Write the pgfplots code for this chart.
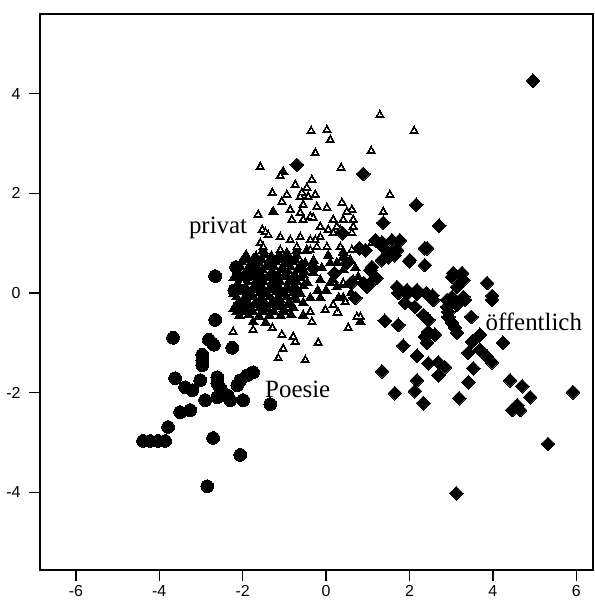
\documentclass[border=0pt]{standalone}
\usepackage{fontspec}
\setmainfont{Liberation Serif}
\newfontfamily\tickfont{Liberation Sans}
\usepackage{pgfplots}
\usepackage{pgfplotstable}
\pgfplotsset{compat=1.18}
% privat: scattered points (white centres visible)
\pgfplotstableread{
x y
1.29 3.57
-0.36 3.25
0.02 3.27
0.10 3.07
2.11 3.25
-0.26 2.81
1.08 2.85
0.36 2.51
-0.34 2.27
1.53 1.97
1.37 1.63
-1.58 2.53
-1.29 2.01
-1.63 1.57
-1.46 1.22
-1.39 1.16
-0.46 2.11
-0.43 1.93
-0.58 2.01
0.02 1.71
0.38 1.81
0.62 1.67
0.65 1.47
0.05 1.27
0.34 1.27
0.62 1.20
-0.62 1.61
-0.38 1.53
-0.26 1.06
0.41 0.20
-0.74 2.17
-0.94 1.97
-0.62 1.93
-0.26 1.97
-1.06 1.83
-0.86 1.67
-0.55 1.77
-0.22 1.73
0.50 1.63
0.17 1.47
-0.82 1.47
-0.55 1.47
-0.31 1.51
-0.14 1.33
-1.53 1.27
-1.10 1.12
-0.86 1.06
-0.62 1.12
-0.38 1.06
-0.14 1.12
-1.51 0.92
-1.10 0.86
-0.70 0.92
-0.38 0.86
0.02 0.92
0.34 0.92
0.62 0.86
-1.10 2.35
-2.01 0.20
-1.58 1.00
-0.22 0.92
-0.02 -0.34
0.26 -0.40
0.46 -0.18
-0.38 -0.38
-0.34 -0.58
0.17 -0.24
-2.23 -0.78
-1.75 -0.74
-1.29 -0.70
-1.06 -0.84
-0.79 -0.88
0.53 -0.70
0.74 -0.48
-1.03 -1.12
-1.15 -1.31
-0.19 -1.00
-0.50 -1.35
-0.74 -0.98
0.29 -0.40
0.82 -0.48
0.41 1.47
0.65 1.33
0.26 1.33
0.17 1.20
1.10 1.00
}\privatA
% privat: dense cluster (outlines merge into a solid mass)
\pgfplotstableread{
x y
-1.27 1.63
-1.03 2.43
-1.65 0.46
-1.51 0.86
-1.10 0.72
-0.94 0.80
-0.70 0.86
-0.46 0.86
0.10 0.60
0.41 0.72
-0.31 0.40
-0.14 0.26
0.10 0.20
0.65 0.26
-0.38 -0.10
-0.14 -0.10
0.70 0.50
0.77 0.32
0.41 0.46
0.26 0.60
0.17 0.26
0.26 0.12
0.41 -0.10
0.82 -0.58
0.41 0.82
0.58 0.66
0.41 0.16
-1.92 0.76
-1.68 0.73
-1.49 0.78
-1.31 0.74
-1.12 0.77
-0.88 0.72
-0.71 0.76
-2.03 0.62
-1.81 0.58
-1.62 0.61
-1.38 0.57
-1.21 0.62
-0.99 0.59
-0.82 0.63
-0.58 0.58
-2.12 0.44
-1.88 0.47
-1.71 0.43
-1.52 0.46
-1.29 0.43
-1.08 0.47
-0.91 0.44
-0.69 0.46
-0.52 0.43
-2.21 0.31
-2.02 0.28
-1.79 0.32
-1.61 0.29
-1.42 0.31
-1.19 0.28
-1.01 0.32
-0.78 0.29
-0.61 0.31
-2.14 0.14
-1.96 0.17
-1.73 0.13
-1.56 0.16
-1.33 0.14
-1.16 0.17
-0.93 0.13
-0.76 0.16
-0.54 0.14
-2.22 -0.01
-1.99 0.02
-1.82 -0.02
-1.58 0.01
-1.41 -0.01
-1.18 0.02
-1.02 -0.02
-0.79 0.01
-0.61 -0.02
-2.09 -0.16
-1.91 -0.13
-1.68 -0.17
-1.51 -0.14
-1.28 -0.16
-1.11 -0.13
-0.88 -0.17
-0.71 -0.14
-2.21 -0.31
-1.98 -0.28
-1.81 -0.32
-1.59 -0.29
-1.41 -0.31
-1.18 -0.28
-1.01 -0.32
-0.79 -0.29
-2.08 -0.46
-1.86 -0.44
-1.61 -0.47
-1.36 -0.45
-1.09 -0.46
-0.84 -0.44
-0.50 0.60
-0.30 0.65
-0.10 0.50
0.05 0.75
0.20 0.40
-0.45 0.20
-0.20 0.05
0.00 0.05
0.60 0.00
0.30 -0.10
-0.55 -0.20
-0.55 -0.45
-1.75 -0.58
-1.45 -0.60
-1.95 0.68
-1.75 0.68
-1.55 0.68
-1.35 0.68
-1.15 0.68
-0.95 0.68
-0.75 0.68
-2.05 0.52
-1.85 0.52
-1.65 0.52
-1.45 0.52
-1.25 0.52
-1.05 0.52
-0.85 0.52
-0.65 0.52
-2.15 0.37
-1.95 0.37
-1.75 0.37
-1.55 0.37
-1.35 0.37
-1.15 0.37
-0.95 0.37
-0.75 0.37
-0.55 0.37
-2.10 0.22
-1.90 0.22
-1.70 0.22
-1.50 0.22
-1.30 0.22
-1.10 0.22
-0.90 0.22
-0.70 0.22
-2.10 0.07
-1.90 0.07
-1.70 0.07
-1.50 0.07
-1.30 0.07
-1.10 0.07
-0.90 0.07
-0.70 0.07
-2.15 -0.08
-1.95 -0.08
-1.75 -0.08
-1.55 -0.08
-1.35 -0.08
-1.15 -0.08
-0.95 -0.08
-0.75 -0.08
-2.10 -0.23
-1.90 -0.23
-1.70 -0.23
-1.50 -0.23
-1.30 -0.23
-1.10 -0.23
-0.90 -0.23
-2.15 -0.38
-1.95 -0.38
-1.75 -0.38
-1.50 -0.38
-1.25 -0.38
-1.00 -0.38
}\privatB
\begin{document}
\begin{tikzpicture}
\begin{axis}[
  at={(40bp,32bp)}, anchor=south west,
  scale only axis, width=553bp, height=556bp,
  xmin=-6.86, xmax=6.40, ymin=-5.56, ymax=5.60,
  axis line style={line width=1.4pt},
  xtick={-6,-4,-2,0,2,4,6}, ytick={-4,-2,0,2,4},
  tick align=outside, tick pos=left,
  major tick length=11bp,
  major tick style={line width=1.4pt, black},
  tick label style={font=\fontsize{16}{18}\selectfont\tickfont},
  yticklabel style={anchor=east, xshift=-5bp},
  xticklabel style={anchor=north, yshift=-1bp},
  /pgf/number format/assume math mode=true,
  clip=false,
]
% Poesie (circles)
\addplot[only marks, mark=*, mark size=6.4pt, mark options={fill=black, draw=black, line width=0pt}] coordinates {
(-2.66,0.34) (-2.16,0.52) (-2.66,-0.54) (-3.67,-0.90) (-2.81,-0.94) (-2.69,-1.04)
(-2.25,-1.10) (-2.97,-1.24) (-2.97,-1.35) (-2.97,-1.45) (-3.62,-1.71) (-3.38,-1.89)
(-3.21,-1.95) (-3.02,-1.75) (-2.61,-1.69) (-2.61,-1.81) (-2.54,-1.91) (-2.37,-2.05)
(-2.30,-2.15) (-2.90,-2.15) (-2.61,-2.09) (-1.99,-2.15) (-2.06,-1.75) (-1.89,-1.65)
(-1.75,-1.59) (-2.13,-1.85) (-1.34,-2.23) (-3.50,-2.39) (-3.26,-2.35) (-3.79,-2.69)
(-4.39,-2.97) (-4.22,-2.97) (-4.03,-2.97) (-3.86,-2.97) (-2.71,-2.91) (-2.06,-3.25)
(-2.85,-3.88) (-2.20,0.05) (-2.05,-0.25) (-1.9,0.35)
};
% privat (open triangles: black outline with small white centre)
\addplot[only marks, mark=triangle*, mark size=5.8pt, mark options={fill=black, draw=black, line width=0pt}] table {\privatB};
\addplot[only marks, mark=triangle*, mark size=5.4pt, mark options={fill=black, draw=black, line width=0pt}] table {\privatA};
\addplot[only marks, mark=triangle*, mark size=1.3pt, mark options={fill=white, draw=white, line width=0pt}] table {\privatA};
% oeffentlich (diamonds)
\addplot[only marks, mark=square*, mark size=4.9pt, mark options={rotate=45, fill=black, draw=black, line width=0pt}] coordinates {
(4.96,4.26) (0.89,2.39) (2.16,1.77) (1.37,1.41) (2.71,1.35) (2.42,0.90) (1.99,0.64)
(2.37,0.56) (1.77,1.06) (1.65,0.76) (-0.70,2.57) (3.26,0.40) (3.02,0.32) (3.14,0.12)
(3.86,0.20) (3.98,-0.06) (1.73,0.00) (1.95,0.00) (2.18,-0.02) (2.40,0.00) (2.55,-0.05)
(3.02,-0.08) (3.29,-0.08) (1.18,1.06) (1.37,0.92) (1.58,0.80) (0.94,0.86) (1.10,0.52)
(3.48,-0.48) (1.41,-0.56) (1.73,-0.64) (2.45,-0.78) (2.61,-0.84) (2.37,-0.88) (2.42,-1.00)
(3.14,-0.80) (2.93,-0.48) (3.02,-0.60) (3.09,-0.70) (3.69,-0.84) (3.50,-0.98) (4.24,-1.00)
(1.85,-1.06) (3.41,-1.20) (3.69,-1.14) (3.86,-1.28) (3.98,-1.39) (2.18,-1.26) (2.45,-1.41)
(2.69,-1.39) (2.85,-1.49) (2.69,-1.65) (3.53,-1.51) (3.41,-1.79) (1.34,-1.57) (2.18,-1.75)
(2.13,-1.97) (1.65,-2.01) (2.33,-2.21) (3.19,-2.11) (4.41,-1.75) (4.70,-1.87) (4.89,-2.09)
(4.46,-2.35) (4.65,-2.35) (4.58,-2.25) (5.92,-1.99) (5.32,-3.03) (3.12,-4.02) (3.98,-0.14)
(1.89,-0.20) (2.13,-0.28) (2.33,-0.44) (2.45,-0.54) (2.90,-0.28) (2.93,-0.38) (3.33,-0.14)
(1.34,1.02) (1.58,1.06) (1.70,0.86) (1.49,0.72) (1.34,0.66) (2.01,0.66) (2.37,0.90)
(1.06,0.46) (1.13,0.26) (0.98,0.12) (0.70,-0.10) (1.70,0.12) (1.94,0.06) (2.18,0.06)
(2.57,-0.14) (3.05,0.40) (3.29,0.26) (2.90,-0.14) (3.14,-0.24)
(0.50,0.60) (0.80,0.90) (0.20,0.40) (1.20,0.30) (0.60,0.20) (-0.30,0.50) (0.40,1.20) (0.90,0.20)
};
\node[anchor=base, font=\fontsize{25}{30}\selectfont] at (axis cs:-2.59,1.20) {privat};
\node[anchor=base, font=\fontsize{25}{30}\selectfont] at (axis cs:-0.68,-2.09) {Poesie};
\node[anchor=base, font=\fontsize{25}{30}\selectfont] at (axis cs:4.98,-0.76) {öffentlich};
\end{axis}
\pgfresetboundingbox
\useasboundingbox (0,0) rectangle (595bp,602bp);
\end{tikzpicture}
\end{document}
